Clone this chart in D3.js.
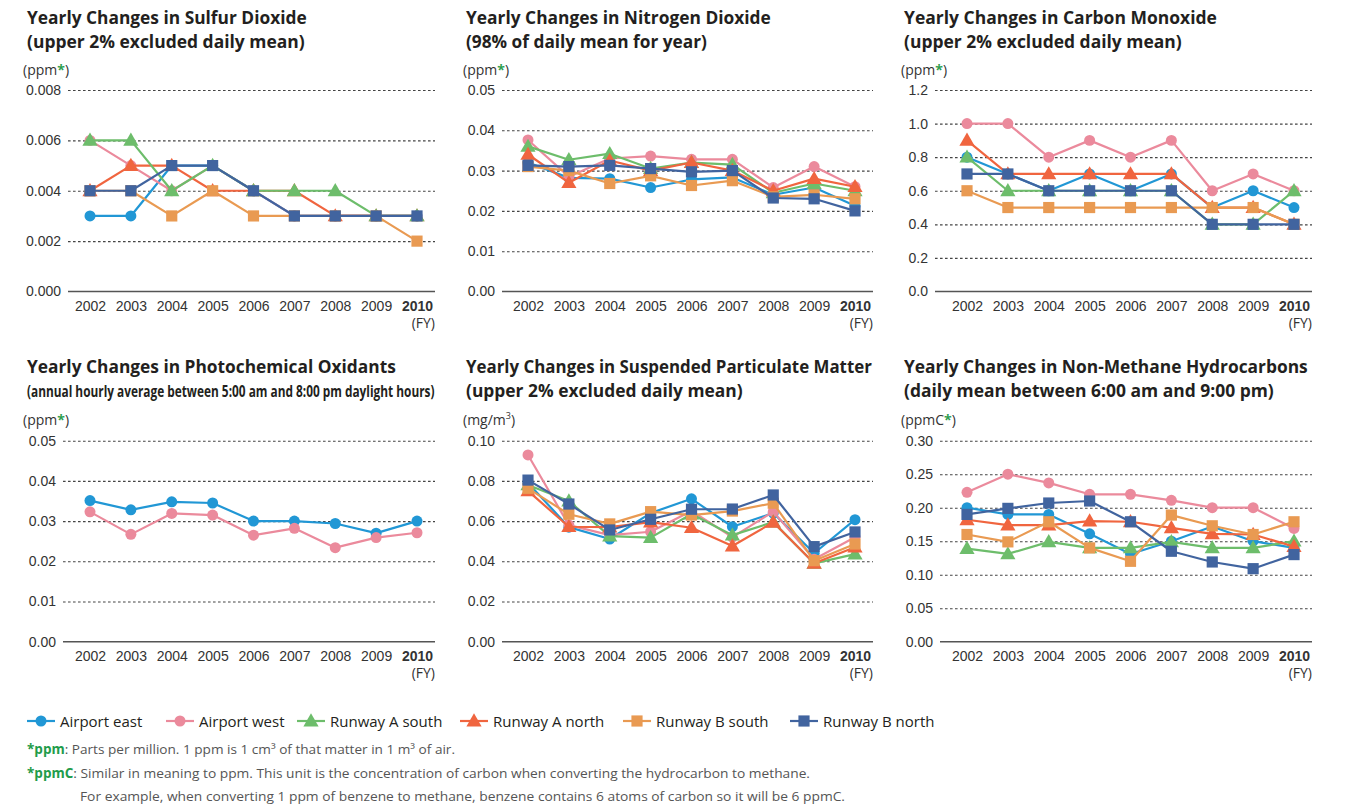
<!DOCTYPE html>
<html>
<head>
<meta charset="utf-8">
<script src="https://cdn.jsdelivr.net/npm/d3@7"></script>
<style>
  html, body { margin: 0; padding: 0; background: #fff; }
  svg { display: block; font-family: "Open Sans", "Noto Sans", sans-serif; }
  .title { font-weight: 700; fill: #231f20; }
  .tick text { fill: #333; font-size: 14px; }
  .unit { fill: #333; font-size: 14px; }
  .legend text { fill: #231f20; font-size: 15px; }
  .note { fill: #555; font-size: 13.5px; }
  .note-key { fill: #1f9c4b; font-size: 13.5px; font-weight: 700; }
</style>
</head>
<body>
<div id="chart"></div>
<script>
// Fiscal years on the x axis, six monitoring stations.
const years = [2002, 2003, 2004, 2005, 2006, 2007, 2008, 2009, 2010];
const stations = ["Airport east", "Airport west", "Runway A south", "Runway A north", "Runway B south", "Runway B north"];

// Values per station, in the order of `stations`.
const so2 = [
  [0.003, 0.003, 0.005, 0.005, 0.004, 0.003, 0.003, 0.003, 0.003],
  [0.006, 0.005, 0.004, 0.005, 0.004, 0.003, 0.003, 0.003, 0.003],
  [0.006, 0.006, 0.004, 0.005, 0.004, 0.004, 0.004, 0.003, 0.003],
  [0.004, 0.005, 0.005, 0.004, 0.004, 0.004, 0.003, 0.003, 0.003],
  [0.004, 0.004, 0.003, 0.004, 0.003, 0.003, 0.003, 0.003, 0.002],
  [0.004, 0.004, 0.005, 0.005, 0.004, 0.003, 0.003, 0.003, 0.003]
];
const no2 = [
  [0.032, 0.0282, 0.028, 0.0258, 0.0278, 0.0283, 0.024, 0.0258, 0.0213],
  [0.0376, 0.0285, 0.033, 0.0336, 0.0328, 0.0328, 0.0258, 0.031, 0.026],
  [0.036, 0.0327, 0.0342, 0.0305, 0.032, 0.0315, 0.0245, 0.0268, 0.025],
  [0.034, 0.027, 0.0325, 0.030, 0.032, 0.030, 0.025, 0.028, 0.026],
  [0.031, 0.030, 0.0268, 0.0287, 0.0263, 0.0275, 0.0235, 0.024, 0.023],
  [0.0313, 0.031, 0.0313, 0.0305, 0.0297, 0.030, 0.0232, 0.023, 0.020]
];
const co = [
  [0.8, 0.7, 0.6, 0.7, 0.6, 0.7, 0.5, 0.6, 0.5],
  [1.0, 1.0, 0.8, 0.9, 0.8, 0.9, 0.6, 0.7, 0.6],
  [0.8, 0.6, 0.6, 0.6, 0.6, 0.6, 0.4, 0.4, 0.6],
  [0.9, 0.7, 0.7, 0.7, 0.7, 0.7, 0.5, 0.5, 0.4],
  [0.6, 0.5, 0.5, 0.5, 0.5, 0.5, 0.5, 0.5, 0.4],
  [0.7, 0.7, 0.6, 0.6, 0.6, 0.6, 0.4, 0.4, 0.4]
];
// Only the two airport stations measure oxidants.
const ox = [
  [0.0351, 0.0328, 0.0348, 0.0345, 0.030, 0.030, 0.0294, 0.0270, 0.030],
  [0.0323, 0.0267, 0.0319, 0.0315, 0.0265, 0.0282, 0.0234, 0.0259, 0.0271]
];
const spm = [
  [0.079, 0.057, 0.0511, 0.064, 0.0711, 0.0572, 0.064, 0.044, 0.0607],
  [0.0929, 0.058, 0.053, 0.0547, 0.065, 0.052, 0.0647, 0.041, 0.052],
  [0.078, 0.070, 0.0525, 0.0518, 0.0635, 0.053, 0.0595, 0.039, 0.0436],
  [0.075, 0.0572, 0.057, 0.0595, 0.0567, 0.0476, 0.0594, 0.039, 0.047],
  [0.0763, 0.0634, 0.0586, 0.0647, 0.063, 0.065, 0.0689, 0.0403, 0.0486],
  [0.0804, 0.0685, 0.0556, 0.0609, 0.0659, 0.066, 0.073, 0.0473, 0.0546]
];
const nmhc = [
  [0.200, 0.190, 0.190, 0.161, 0.131, 0.150, 0.172, 0.150, 0.140],
  [0.223, 0.250, 0.237, 0.220, 0.220, 0.211, 0.200, 0.200, 0.169],
  [0.139, 0.131, 0.149, 0.140, 0.140, 0.149, 0.140, 0.140, 0.150],
  [0.182, 0.174, 0.174, 0.180, 0.179, 0.170, 0.161, 0.160, 0.142],
  [0.160, 0.149, 0.179, 0.140, 0.120, 0.189, 0.173, 0.160, 0.179],
  [0.190, 0.199, 0.207, 0.210, 0.179, 0.135, 0.119, 0.109, 0.130]
];

const so2Ticks = [0, 0.002, 0.004, 0.006, 0.008];
const no2Ticks = [0, 0.01, 0.02, 0.03, 0.04, 0.05];
const coTicks = [0, 0.2, 0.4, 0.6, 0.8, 1.0, 1.2];
const oxTicks = [0, 0.01, 0.02, 0.03, 0.04, 0.05];
const spmTicks = [0, 0.02, 0.04, 0.06, 0.08, 0.10];
const nmhcTicks = [0, 0.05, 0.10, 0.15, 0.20, 0.25, 0.30];

const colors = ["#2197d5", "#eb8a9c", "#6dbd6b", "#f0653f", "#e99a52", "#41649f"];
const shapes = [d3.symbolCircle, d3.symbolCircle, d3.symbolTriangle, d3.symbolTriangle, d3.symbolSquare, d3.symbolSquare];
const shapeSize = [95, 95, 100, 100, 125, 125];

const W = 1345, H = 807;
const svg = d3.select("#chart").append("svg").attr("width", W).attr("height", H);

// Panel layout: grid box, point range, title placement.
const rowTop = { yTop: 90, yBot: 291.5, t1: 24, t2: 48, unitY: 75, lblY: 311, fyY: 328 };
const rowBot = { yTop: 440.7, yBot: 641.7, t1: 373, t2: 397, unitY: 425, lblY: 661, fyY: 678 };

const panels = [
  { row: rowTop, gx0: 68, gx1: 435, tx: 27, ux: 23, titles: ["Yearly Changes in Sulfur Dioxide", "(upper 2% excluded daily mean)"], tw: [280, 278],
    unit: "ppm", data: so2, ticks: so2Ticks, fmt: ".3f", order: [0, 1, 3, 2, 4, 5] },
  { row: rowTop, gx0: 502, gx1: 873, tx: 466, ux: 463, titles: ["Yearly Changes in Nitrogen Dioxide", "(98% of daily mean for year)"], tw: [305, 241],
    unit: "ppm", data: no2, ticks: no2Ticks, fmt: ".2f" },
  { row: rowTop, gx0: 935, gx1: 1312, tx: 904, ux: 901, titles: ["Yearly Changes in Carbon Monoxide", "(upper 2% excluded daily mean)"], tw: [313, 278],
    unit: "ppm", data: co, ticks: coTicks, fmt: ".1f" },
  { row: rowBot, gx0: 63, gx1: 435, tx: 27, ux: 23, titles: ["Yearly Changes in Photochemical Oxidants", "(annual hourly average between 5:00 am and 8:00 pm daylight hours)"], tw: [369, 408],
    unit: "ppm", data: ox, ticks: oxTicks, fmt: ".2f", small2: true },
  { row: rowBot, gx0: 502, gx1: 873, tx: 466, ux: 463, titles: ["Yearly Changes in Suspended Particulate Matter", "(upper 2% excluded daily mean)"], tw: [406, 277],
    unit: "mg", data: spm, ticks: spmTicks, fmt: ".2f" },
  { row: rowBot, gx0: 940, gx1: 1312, tx: 904, ux: 901, titles: ["Yearly Changes in Non-Methane Hydrocarbons", "(daily mean between 6:00 am and 9:00 pm)"], tw: [404, 370],
    unit: "ppmC", data: nmhc, ticks: nmhcTicks, fmt: ".2f" }
];

// Myriad-style narrow title: draw at natural size, then squeeze horizontally to the target width.
function fitTitle(g, txt, x, yb, size, width) {
  const t = g.append("text").attr("class", "title").attr("font-size", size).text(txt);
  const w = t.node().getComputedTextLength();
  t.attr("transform", `translate(${x},${yb}) scale(${width / w},1)`);
}

panels.forEach((p) => {
  const r = p.row;
  const g = svg.append("g");
  // points sit ~22px in from the left grid edge, 18px from the right
  const x = d3.scalePoint(years, [p.gx1 - 18 - 327, p.gx1 - 18]);
  const y = d3.scaleLinear([0, d3.max(p.ticks)], [r.yBot, r.yTop]);

  fitTitle(g, p.titles[0], p.tx, r.t1, 17, p.tw[0]);
  fitTitle(g, p.titles[1], p.tx, r.t2, p.small2 ? 15.5 : 17, p.tw[1]);

  const u = g.append("text").attr("class", "unit").attr("x", p.ux).attr("y", r.unitY);
  if (p.unit === "mg") {
    u.append("tspan").text("(mg/m");
    u.append("tspan").attr("font-size", 9).attr("dy", -6).text("3");
    u.append("tspan").attr("dy", 6).text(")");
  } else {
    u.append("tspan").text("(" + p.unit);
    u.append("tspan").attr("fill", "#2f9e50").attr("font-weight", 700).text("*");
    u.append("tspan").text(")");
  }

  // dotted gridlines + left labels
  const ya = g.append("g").attr("transform", `translate(${p.gx0},0)`)
    .call(d3.axisLeft(y).tickValues(p.ticks).tickFormat(d3.format(p.fmt)).tickSize(-(p.gx1 - p.gx0)).tickPadding(7));
  ya.select(".domain").remove();
  ya.selectAll(".tick line").attr("stroke", "#444").attr("stroke-dasharray", "2.6,2.4").attr("stroke-width", 1.1)
    .filter((d) => d === 0).remove();

  g.append("line").attr("x1", p.gx0).attr("x2", p.gx1).attr("y1", y(0)).attr("y2", y(0))
    .attr("stroke", "#555").attr("stroke-width", 1.6);

  const xa = g.append("g").attr("transform", `translate(0,${r.lblY - 14})`)
    .call(d3.axisBottom(x).tickSize(0).tickPadding(0));
  xa.select(".domain").remove();
  xa.selectAll(".tick text").attr("dy", "0").attr("y", 14).attr("font-weight", (d) => (d === 2010 ? 700 : 400)).attr("fill", (d) => (d === 2010 ? "#231f20" : "#333"));
  g.append("text").attr("class", "unit").attr("x", p.gx1).attr("y", r.fyY).attr("text-anchor", "end").text("(FY)");

  const line = d3.line().x((d, i) => x(years[i])).y((d) => y(d));
  const order = p.order || p.data.map((_, i) => i);
  order.forEach((si) => {
    const vals = p.data[si];
    const s = g.append("g");
    s.append("path").attr("d", line(vals)).attr("fill", "none").attr("stroke", colors[si]).attr("stroke-width", 2.2).attr("stroke-linejoin", "round");
    s.selectAll("path.m").data(vals).join("path").attr("class", "m")
      .attr("transform", (d, i) => `translate(${x(years[i])},${y(d) + (shapes[si] === d3.symbolTriangle ? 1 : 0)})`)
      .attr("d", d3.symbol(shapes[si], shapeSize[si]))
      .attr("fill", colors[si]);
  });
});

// Legend
const legX = [27, 166, 297, 460, 623, 790];
const leg = svg.append("g").attr("class", "legend");
stations.forEach((name, i) => {
  const lg = leg.append("g").attr("transform", `translate(${legX[i]},721)`);
  lg.append("line").attr("x1", 0).attr("x2", 28).attr("stroke", colors[i]).attr("stroke-width", 2.2);
  lg.append("path").attr("transform", `translate(14,${shapes[i] === d3.symbolTriangle ? 1 : 0})`).attr("d", d3.symbol(shapes[i], shapeSize[i])).attr("fill", colors[i]);
  lg.append("text").attr("x", 33).attr("y", 5.5).text(name);
});

// Footnotes
function note(key, rest, x, yb, end) {
  let cx = x;
  if (key) {
    const k = svg.append("text").attr("class", "note-key").attr("x", x).attr("y", yb).text(key);
    cx = x + k.node().getComputedTextLength();
  }
  svg.append("text").attr("class", "note").attr("x", cx).attr("y", yb)
    .attr("textLength", end - cx).attr("lengthAdjust", "spacingAndGlyphs").text(rest);
}
note("*ppm", ": Parts per million. 1 ppm is 1 cm³ of that matter in 1 m³ of air.", 27, 754, 455);
note("*ppmC", ": Similar in meaning to ppm. This unit is the concentration of carbon when converting the hydrocarbon to methane.", 27, 778, 810);
note(null, "For example, when converting 1 ppm of benzene to methane, benzene contains 6 atoms of carbon so it will be 6 ppmC.", 80, 801, 845);
</script>
</body>
</html>
